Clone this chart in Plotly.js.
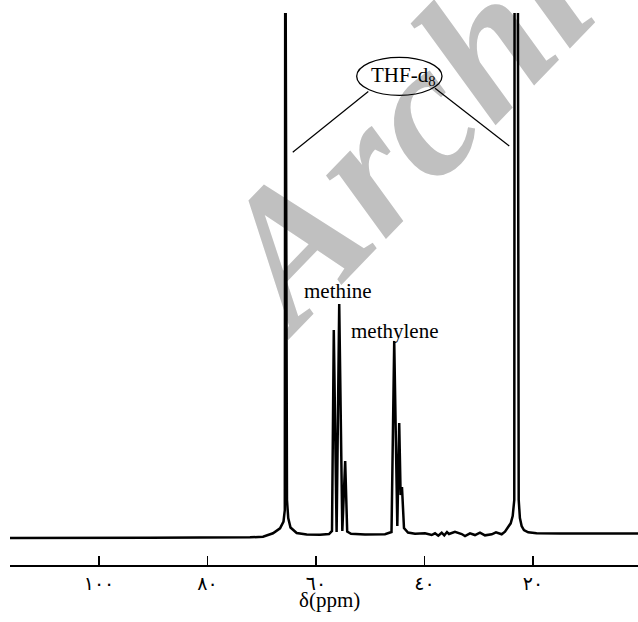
<!DOCTYPE html>
<html><head><meta charset="utf-8">
<script src="https://cdn.plot.ly/plotly-3.0.1.min.js"></script>
<style>
html,body{margin:0;padding:0;background:#fff}
#wrap{position:relative;width:638px;height:622px}
#back,#chart{position:absolute;left:0;top:0;width:638px;height:622px}
</style>
</head><body><div id="wrap"><div id="back"></div><div id="chart"></div></div>
<script>
// 13C NMR spectrum (chemical shift in ppm, relative intensity)
const shiftPpm = [116.41, 90.60, 72.17, 69.77, 67.93, 66.63, 65.99, 65.75, 65.66, 65.35, 65.12, 64.70, 63.56, 61.71, 59.26, 57.60, 57.05, 56.72, 56.20, 55.72, 55.15, 54.62, 54.25, 53.55, 50.97, 47.28, 46.08, 45.58, 45.01, 44.66, 44.40, 44.15, 43.78, 43.04, 41.75, 39.91, 38.67, 38.06, 37.46, 36.83, 36.35, 35.85, 35.48, 34.38, 33.14, 32.53, 31.61, 30.69, 29.77, 28.85, 27.61, 26.82, 25.77, 25.16, 24.55, 24.11, 23.74, 23.45, 23.23, 22.63, 22.41, 22.09, 21.67, 20.88, 19.33, 15.02, 0.64];
const intensity = [-0.19, -0.15, -0.06, 0.06, 0.71, 1.66, 2.96, 5.15, 130, 7.06, 3.63, 1.81, 0.76, 0.48, 0.42, 0.57, 1.15, 39.5, 0.95, 44.47, 1.15, 14.5, 1.05, 0.61, 0.48, 0.53, 0.95, 37.4, 2.10, 21.76, 8.02, 9.54, 1.72, 0.86, 0.61, 0.71, 0.38, 0.71, 0.25, 0.82, 0.32, 0.95, 0.57, 1.01, 0.57, 0.19, 0.71, 0.38, 0.82, 0.32, 0.52, 0.90, 0.52, 1.01, 1.97, 2.61, 4.01, 7.06, 400, 7.06, 3.63, 2.10, 1.34, 0.90, 0.71, 0.69, 0.67];

const tickValues = [100, 80, 60, 40, 20];
const tickLabels = ['١٠٠', '٨٠', '٦٠', '٤٠', '٢٠'];
const axisTitle = 'δ(ppm)';
const solventLabel = 'THF-d<sub>8</sub>';
const peakLabels = ['methine', 'methylene'];
const watermark = 'Archive';

const serif = 'Liberation Serif, Times New Roman, serif';

// background layer: watermark (drawn beneath the spectrum)
Plotly.newPlot('back', [], {
  width: 638, height: 622, margin: {l: 0, r: 0, t: 0, b: 0},
  paper_bgcolor: '#fff', plot_bgcolor: '#fff',
  xaxis: {visible: false}, yaxis: {visible: false},
  annotations: [{
    xref: 'paper', yref: 'paper', x: 0.7179, y: 0.8846, xanchor: 'center', yanchor: 'middle',
    text: '<b><i>' + watermark + '</i></b>', showarrow: false, textangle: -46,
    font: {family: serif, size: 190, color: '#c0c0c0'}
  }]
}, {staticPlot: true, displayModeBar: false});

const trace = {
  x: shiftPpm, y: intensity, type: 'scatter', mode: 'lines',
  line: {color: '#000', width: 2.5, simplify: false},
  hoverinfo: 'skip', showlegend: false
};

const layout = {
  width: 638, height: 622,
  margin: {l: 10, r: 0, t: 13, b: 57},
  paper_bgcolor: 'rgba(0,0,0,0)', plot_bgcolor: 'rgba(0,0,0,0)',
  showlegend: false,
  xaxis: {
    range: [116.41, 0.64], showgrid: false, zeroline: false,
    showline: true, linecolor: '#000', linewidth: 2,
    ticks: 'inside', ticklen: 9, tickwidth: 1.3, tickcolor: '#000',
    tickmode: 'array', tickvals: tickValues, ticktext: tickLabels,
    tickfont: {family: 'DejaVu Sans, Liberation Serif, serif', size: 19, color: '#000'},
    fixedrange: true
  },
  yaxis: {range: [-5.34, 100], visible: false, fixedrange: true},
  shapes: [
    {type: 'circle', xref: 'x', yref: 'y', x0: 52.50, x1: 36.77, y0: 84.29, y1: 91.55,
     line: {color: '#000', width: 1.3}},
    {type: 'line', xref: 'x', yref: 'y', x0: 50.36, y0: 85.02, x1: 64.29, y1: 73.41,
     line: {color: '#000', width: 1.2}},
    {type: 'line', xref: 'x', yref: 'y', x0: 38.06, y0: 85.63, x1: 24.37, y1: 74.62,
     line: {color: '#000', width: 1.2}}
  ],
  annotations: [
    {x: 43.9, y: 88.07, xref: 'x', yref: 'y', text: solventLabel, showarrow: false,
     xanchor: 'center', yanchor: 'middle', font: {family: serif, size: 21, color: '#000'}},
    {x: 55.94, y: 46.95, xref: 'x', yref: 'y', text: peakLabels[0], showarrow: false,
     xanchor: 'center', yanchor: 'middle', font: {family: serif, size: 21, color: '#000'}},
    {x: 45.44, y: 39.4, xref: 'x', yref: 'y', text: peakLabels[1], showarrow: false,
     xanchor: 'center', yanchor: 'middle', font: {family: serif, size: 21, color: '#000'}},
    {x: 0.5084, y: -0.0634, xref: 'paper', yref: 'paper', text: axisTitle, showarrow: false,
     xanchor: 'center', yanchor: 'middle', font: {family: serif, size: 21, color: '#000'}}
  ]
};

Plotly.newPlot('chart', [trace], layout, {staticPlot: true, displayModeBar: false});
</script>
</body></html>
